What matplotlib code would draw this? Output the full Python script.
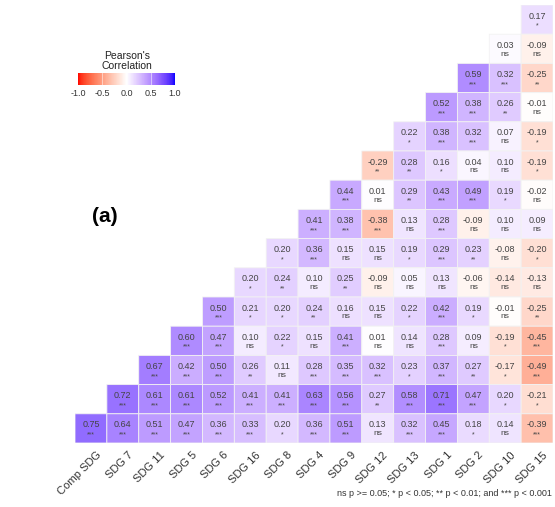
import numpy as np
import matplotlib
matplotlib.use("Agg")
import matplotlib.pyplot as plt
from matplotlib.colors import ListedColormap
from matplotlib.transforms import ScaledTranslation

plt.rcParams["font.family"] = ["Liberation Sans", "DejaVu Sans"]

labels = ["Comp SDG", "SDG 7", "SDG 11", "SDG 5", "SDG 6", "SDG 16", "SDG 8",
          "SDG 4", "SDG 9", "SDG 12", "SDG 13", "SDG 1", "SDG 2", "SDG 10", "SDG 15"]

# rows from top to bottom; row r fills the last r+1 columns
r_rows = [
    [0.17],
    [0.03, -0.09],
    [0.59, 0.32, -0.25],
    [0.52, 0.38, 0.26, -0.01],
    [0.22, 0.38, 0.32, 0.07, -0.19],
    [-0.29, 0.28, 0.16, 0.04, 0.10, -0.19],
    [0.44, 0.01, 0.29, 0.43, 0.49, 0.19, -0.02],
    [0.41, 0.38, -0.38, 0.13, 0.28, -0.09, 0.10, 0.09],
    [0.20, 0.36, 0.15, 0.15, 0.19, 0.29, 0.23, -0.08, -0.20],
    [0.20, 0.24, 0.10, 0.25, -0.09, 0.05, 0.13, -0.06, -0.14, -0.13],
    [0.50, 0.21, 0.20, 0.24, 0.16, 0.15, 0.22, 0.42, 0.19, -0.01, -0.25],
    [0.60, 0.47, 0.10, 0.22, 0.15, 0.41, 0.01, 0.14, 0.28, 0.09, -0.19, -0.45],
    [0.67, 0.42, 0.50, 0.26, 0.11, 0.28, 0.35, 0.32, 0.23, 0.37, 0.27, -0.17, -0.49],
    [0.72, 0.61, 0.61, 0.52, 0.41, 0.41, 0.63, 0.56, 0.27, 0.58, 0.71, 0.47, 0.20, -0.21],
    [0.75, 0.64, 0.51, 0.47, 0.36, 0.33, 0.20, 0.36, 0.51, 0.13, 0.32, 0.45, 0.18, 0.14, -0.39],
]
sig_rows = [
    ["*"],
    ["ns", "ns"],
    ["***", "***", "**"],
    ["***", "***", "**", "ns"],
    ["*", "***", "***", "ns", "*"],
    ["**", "**", "*", "ns", "ns", "*"],
    ["***", "ns", "**", "***", "***", "*", "ns"],
    ["***", "***", "***", "ns", "***", "ns", "ns", "ns"],
    ["*", "***", "ns", "ns", "*", "***", "**", "ns", "*"],
    ["*", "**", "ns", "**", "ns", "ns", "ns", "ns", "ns", "ns"],
    ["***", "*", "*", "**", "ns", "ns", "*", "***", "*", "ns", "**"],
    ["***", "***", "ns", "*", "ns", "***", "ns", "ns", "***", "ns", "*", "***"],
    ["***", "***", "***", "**", "ns", "***", "***", "***", "*", "***", "**", "*", "***"],
    ["***", "***", "***", "***", "***", "***", "***", "***", "**", "***", "***", "***", "*", "*"],
    ["***", "***", "***", "***", "***", "***", "*", "***", "***", "ns", "***", "***", "*", "ns", "***"],
]


# red - white - blue gradient interpolated in Lab space (ggplot style)
def srgb_to_lab(c):
    c = np.asarray(c, float) / 255
    lin = np.where(c <= 0.04045, c / 12.92, ((c + 0.055) / 1.055) ** 2.4)
    M = np.array([[0.4124, 0.3576, 0.1805], [0.2126, 0.7152, 0.0722], [0.0193, 0.1192, 0.9505]])
    xyz = M @ lin / np.array([0.95047, 1.0, 1.08883])
    f = np.where(xyz > 0.008856, np.cbrt(xyz), 7.787 * xyz + 16 / 116)
    return np.array([116 * f[1] - 16, 500 * (f[0] - f[1]), 200 * (f[1] - f[2])])


def lab_to_srgb(lab):
    L, a, b = lab
    fy = (L + 16) / 116
    f = np.array([fy + a / 500, fy, fy - b / 200])
    xyz = np.where(f ** 3 > 0.008856, f ** 3, (f - 16 / 116) / 7.787) * np.array([0.95047, 1.0, 1.08883])
    Minv = np.array([[3.2406, -1.5372, -0.4986], [-0.9689, 1.8758, 0.0415], [0.0557, -0.2040, 1.0570]])
    lin = Minv @ xyz
    c = np.where(lin <= 0.0031308, 12.92 * lin, 1.055 * np.clip(lin, 0, None) ** (1 / 2.4) - 0.055)
    return np.clip(c, 0, 1)


red, white, blue = srgb_to_lab([255, 0, 0]), srgb_to_lab([255, 255, 255]), srgb_to_lab([0, 0, 255])
cols = []
for t in np.linspace(-1, 1, 256):
    lab = white + (red - white) * (-t) if t < 0 else white + (blue - white) * t
    cols.append(lab_to_srgb(lab))
cols = np.array(cols)
cmap = ListedColormap(cols)
# tiles are drawn a bit faded
cmap_tiles = ListedColormap(0.84 * cols + 0.16)

n = len(labels)
mat = np.full((n, n), np.nan)
for r, vals in enumerate(r_rows):
    mat[r, n - len(vals):] = vals
data = np.ma.masked_invalid(mat)

fig = plt.figure(figsize=(5.55, 5.07), dpi=100)
ax = fig.add_axes([75 / 555, 1 - 443 / 507, 478 / 555, 438 / 507])
ax.pcolor(np.arange(n + 1), np.arange(n + 1), data, cmap=cmap_tiles, vmin=-1, vmax=1,
          edgecolor="#f2f2f2", linewidth=0.6)
ax.set_xlim(0, n)
ax.set_ylim(n, 0)
for r in range(n):
    for c in range(n - len(r_rows[r]), n):
        ax.text(c + 0.5, r + 0.38, f"{mat[r, c]:.2f}", ha="center", va="center",
                fontsize=6.5, color="#444444")
        s = sig_rows[r][c - (n - len(r_rows[r]))]
        ax.text(c + 0.5, r + (0.68 if s == "ns" else 0.72), s, ha="center", va="center",
                fontsize=6 if s == "ns" else 5, color="#444444")
ax.set_xticks(np.arange(n) + 0.5)
ax.set_xticklabels(labels, rotation=45, ha="right", rotation_mode="anchor",
                   fontsize=8, color="#333333")
ax.tick_params(axis="x", length=0, pad=5)
shift = ScaledTranslation(5 / 100, 0, fig.dpi_scale_trans)
for lab in ax.get_xticklabels():
    lab.set_transform(lab.get_transform() + shift)
ax.set_yticks([])
for sp in ax.spines.values():
    sp.set_visible(False)

# colour key
cax = fig.add_axes([78 / 555, 1 - 85 / 507, 97 / 555, 12 / 507])
cb = fig.colorbar(plt.cm.ScalarMappable(cmap=cmap, norm=plt.Normalize(-1, 1)),
                  cax=cax, orientation="horizontal")
cb.set_ticks([-1, -0.5, 0, 0.5, 1])
cb.set_ticklabels(["-1.0", "-0.5", "0.0", "0.5", "1.0"])
cb.ax.tick_params(length=0, labelsize=6.5, labelcolor="#333333", pad=3)
cb.outline.set_visible(False)
for t in [-0.5, 0, 0.5]:
    cax.axvline(t, color="white", lw=0.6, alpha=0.6)
fig.text(127 / 555, 1 - 61 / 507, "Pearson's\nCorrelation", ha="center", va="center",
         fontsize=7.5, color="#222222", linespacing=1.1)

fig.text(105 / 555, 1 - 216 / 507, "(a)", ha="center", va="center",
         fontsize=15, fontweight="bold")
fig.text(552 / 555, 1 - 493 / 507, "ns p >= 0.05; * p < 0.05; ** p < 0.01; and *** p < 0.001",
         ha="right", va="center", fontsize=6.5, color="#333333")

fig.savefig("out.png", dpi=100)
